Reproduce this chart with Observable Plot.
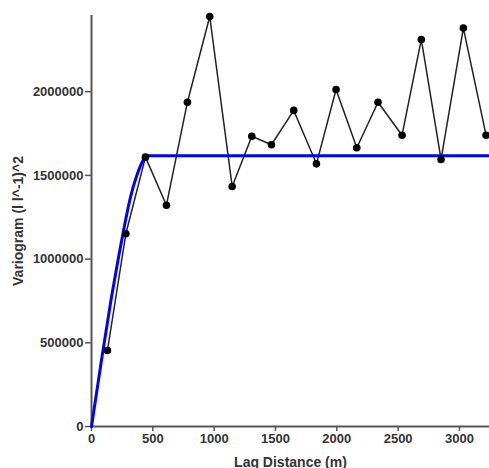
<!DOCTYPE html>
<html>
<head>
<meta charset="utf-8">
<script src="https://cdn.jsdelivr.net/npm/d3@7"></script>
<script src="https://cdn.jsdelivr.net/npm/@observablehq/plot@0.6"></script>
<style>
  html, body { margin: 0; padding: 0; background: #fff; }
</style>
</head>
<body>
<div id="chart"></div>
<script>
// Empirical variogram (lag distance in m, semivariance)
const lagDistance = [130, 280, 440, 611, 782, 964, 1147, 1307, 1467, 1649, 1834, 1994, 2163, 2336, 2532, 2689, 2850, 3032, 3217];
const variogram = [454000, 1151000, 1609000, 1322000, 1937000, 2449000, 1434000, 1734000, 1683000, 1888000, 1569000, 2013000, 1665000, 1937000, 1740000, 2312000, 1595000, 2380000, 1740000];

// Fitted model curve
const modelDistance = [0, 80, 160, 220, 265, 318, 372, 426, 452, 3245];
const modelVariogram = [0, 390000, 760000, 1010000, 1185000, 1370000, 1505000, 1596000, 1617000, 1617000];

const xTicks = [0, 500, 1000, 1500, 2000, 2500, 3000];
const yTicks = [0, 500000, 1000000, 1500000, 2000000];

const xTitle = "Lag Distance (m)";
const yTitle = "Variogram (l l^-1)^2";

const empirical = lagDistance.map((d, i) => ({x: d, y: variogram[i]}));
const model = modelDistance.map((d, i) => ({x: d, y: modelVariogram[i]}));

const chart = Plot.plot({
  width: 489,
  height: 468,
  marginLeft: 91,
  marginRight: 0,
  marginTop: 15,
  marginBottom: 42,
  style: {fontFamily: "'Liberation Sans', Arial, sans-serif", background: "#fff", color: "#333"},
  x: {domain: [0, 3245]},
  y: {domain: [0, 2455000]},
  marks: [
    Plot.axisX({ticks: xTicks, tickFormat: d3.format("d"), tickSize: 5, tickPadding: 2, fontSize: 13, fontWeight: "bold", stroke: "#555", strokeWidth: 1.5, fill: "#333", label: null}),
    Plot.axisY({ticks: yTicks, tickFormat: d3.format("d"), tickSize: 6, tickPadding: 2, fontSize: 13, fontWeight: "bold", stroke: "#555", strokeWidth: 1.5, fill: "#333", label: null}),
    Plot.ruleX([0], {stroke: "#555", strokeWidth: 2}),
    Plot.ruleY([0], {stroke: "#555", strokeWidth: 2}),
    Plot.line(empirical, {x: "x", y: "y", stroke: "#222", strokeWidth: 1.5}),
    Plot.line(model, {x: "x", y: "y", stroke: "#0000ff", strokeWidth: 3, curve: "monotone-x"}),
    Plot.dot(empirical, {x: "x", y: "y", r: 3.8, fill: "#000", stroke: "none"}),
    Plot.text([xTitle], {frameAnchor: "bottom", lineAnchor: "bottom", dy: 40, fontSize: 14, fontWeight: "bold", fill: "#333"}),
    Plot.text([yTitle], {frameAnchor: "left", textAnchor: "middle", lineAnchor: "middle", dx: -73, rotate: -90, fontSize: 14, fontWeight: "bold", fill: "#333"})
  ]
});
document.getElementById("chart").appendChild(chart);
</script>
</body>
</html>
